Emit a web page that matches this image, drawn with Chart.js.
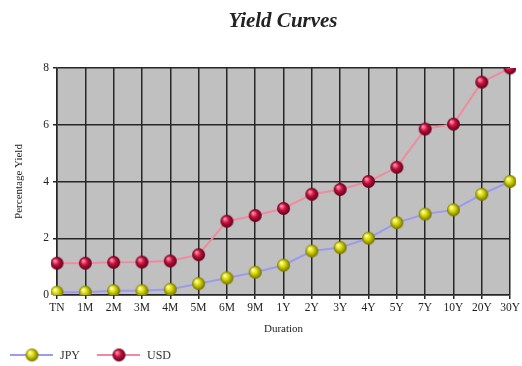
<!DOCTYPE html>
<html>
<head>
<meta charset="utf-8">
<script src="https://cdn.jsdelivr.net/npm/chart.js@4/dist/chart.umd.min.js"></script>
<style>
  html, body { margin: 0; padding: 0; background: #ffffff; }
  #wrap { width: 522px; height: 366px; }
</style>
</head>
<body>
<div id="wrap"><canvas id="c" width="522" height="366"></canvas></div>
<script>
// Maturities along the curve
const durations = ['TN', '1M', '2M', '3M', '4M', '5M', '6M', '9M', '1Y', '2Y', '3Y', '4Y', '5Y', '7Y', '10Y', '20Y', '30Y'];
// Yields in percent
const jpyYield = [0.1, 0.1, 0.15, 0.15, 0.2, 0.4, 0.6, 0.8, 1.05, 1.55, 1.67, 2.0, 2.55, 2.85, 3.0, 3.55, 4.0];
const usdYield = [1.12, 1.12, 1.15, 1.16, 1.2, 1.42, 2.6, 2.8, 3.05, 3.55, 3.72, 4.0, 4.5, 5.85, 6.02, 7.5, 8.0];
const yTicks = [0, 2, 4, 6, 8];

// Shaded ball marker drawn once into an offscreen canvas
function makeBall(light, mid, dark, r) {
  const size = r * 2 + 2;
  const cv = document.createElement('canvas');
  cv.width = size; cv.height = size;
  const g = cv.getContext('2d');
  const c = size / 2;
  const grad = g.createRadialGradient(c - r * 0.35, c - r * 0.4, r * 0.1, c, c, r);
  grad.addColorStop(0, light);
  grad.addColorStop(0.45, mid);
  grad.addColorStop(1, dark);
  g.fillStyle = grad;
  g.beginPath();
  g.arc(c, c, r, 0, Math.PI * 2);
  g.fill();
  return cv;
}
const jpyBall = makeBall('#ffffb0', '#d4d400', '#6e6e00', 6.5);
const usdBall = makeBall('#ff8fa8', '#c8103e', '#5a0018', 6.5);

const serif = '"Liberation Serif", "DejaVu Serif", serif';

const plotBackground = {
  id: 'plotBackground',
  beforeDraw(chart) {
    const { ctx, chartArea: a } = chart;
    ctx.save();
    ctx.fillStyle = '#c0c0c0';
    ctx.fillRect(a.left, a.top, a.right - a.left, a.bottom - a.top);
    ctx.restore();
  }
};

const titleAndLegend = {
  id: 'titleAndLegend',
  afterDraw(chart) {
    const ctx = chart.ctx;
    ctx.save();
    ctx.fillStyle = '#222222';
    ctx.font = 'italic bold 21px ' + serif;
    ctx.textAlign = 'center';
    ctx.textBaseline = 'middle';
    ctx.fillText('Yield Curves', 283, 22);

    // legend entries: line, ball, label
    const items = [
      { label: 'JPY', color: '#9a9af0', ball: jpyBall, x: 10 },
      { label: 'USD', color: '#f08aa0', ball: usdBall, x: 97 }
    ];
    const y = 355;
    ctx.font = '12px ' + serif;
    ctx.textAlign = 'left';
    items.forEach(it => {
      ctx.strokeStyle = it.color;
      ctx.lineWidth = 2;
      ctx.beginPath();
      ctx.moveTo(it.x, y);
      ctx.lineTo(it.x + 43, y);
      ctx.stroke();
      ctx.drawImage(it.ball, it.x + 22 - it.ball.width / 2, y - it.ball.height / 2);
      ctx.fillStyle = '#333333';
      ctx.fillText(it.label, it.x + 50, y + 1);
    });
    ctx.restore();
  }
};

new Chart(document.getElementById('c'), {
  type: 'line',
  data: {
    labels: durations,
    datasets: [
      {
        label: 'JPY',
        data: jpyYield,
        borderColor: '#9a9af0',
        borderWidth: 2,
        pointStyle: jpyBall,
        tension: 0
      },
      {
        label: 'USD',
        data: usdYield,
        borderColor: '#f08aa0',
        borderWidth: 2,
        pointStyle: usdBall,
        tension: 0
      }
    ]
  },
  options: {
    responsive: false,
    animation: false,
    layout: { padding: { top: 68, left: 0, right: 11, bottom: 26 } },
    plugins: {
      legend: { display: false },
      title: { display: false },
      tooltip: { enabled: false }
    },
    scales: {
      x: {
        type: 'category',
        offset: false,
        grid: { color: '#262626', lineWidth: 1.5, drawTicks: true, tickLength: 4, tickColor: '#262626' },
        border: { color: '#262626', width: 1.5 },
        ticks: { color: '#222', font: { family: serif, size: 11.5 }, maxRotation: 0, autoSkip: false, padding: 2 },
        title: { display: true, text: 'Duration', color: '#222', font: { family: serif, size: 11 }, padding: { top: 2 } },
        afterFit(scale) { scale.height = 45; }
      },
      y: {
        min: 0,
        max: 8,
        afterBuildTicks(scale) { scale.ticks = yTicks.map(v => ({ value: v })); },
        grid: { color: '#262626', lineWidth: 1.5, tickLength: 4, tickColor: '#262626' },
        border: { color: '#262626', width: 1.5 },
        ticks: { color: '#222', font: { family: serif, size: 11.5 }, padding: 4 },
        title: { display: true, text: 'Percentage Yield', color: '#222', font: { family: serif, size: 11 }, padding: { top: 13, bottom: 4 } },
        afterFit(scale) { scale.width = 57; }
      }
    }
  },
  plugins: [plotBackground, titleAndLegend]
});
</script>
</body>
</html>
